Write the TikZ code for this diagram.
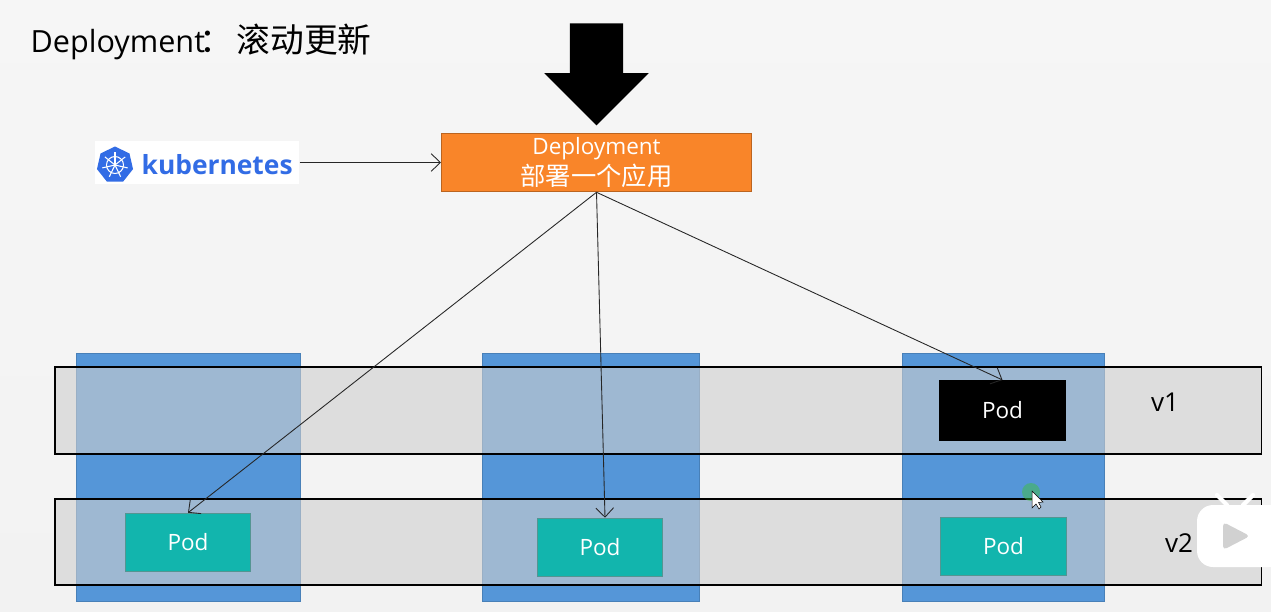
\documentclass[tikz,border=0pt]{standalone}
\usepackage{fontspec}
\setmainfont{Open Sans}
\newfontfamily\cjk{Noto Sans CJK SC}
\usetikzlibrary{shapes.arrows,shapes.geometric,arrows.meta}
\definecolor{pageback}{HTML}{F2F2F2}
\definecolor{colblue}{HTML}{5596D8}
\definecolor{bandgray}{HTML}{CFCFCF}
\definecolor{deployorange}{HTML}{F98529}
\definecolor{podteal}{HTML}{12B5AD}
\definecolor{kubeblue}{HTML}{326CE5}
\tikzset{
  column/.style={draw=colblue!85!black,line width=0.2pt,fill=colblue,minimum height=2.48cm,inner sep=0pt},
  band/.style={draw=black,line width=0.3pt,fill=bandgray,fill opacity=0.6,minimum width=12.06cm,inner sep=0pt},
  pod/.style={draw=podteal!40!gray,line width=0.3pt,fill=podteal,text=white,minimum width=1.25cm,minimum height=0.585cm,inner sep=0pt,font=\fontsize{6.4}{7}\selectfont},
  link/.style={-{Straight Barb[length=2.6pt,width=5pt]},line width=0.25pt,draw=black!85},
  version/.style={font=\fontsize{7.4}{8}\selectfont}
}
\begin{document}
\begin{tikzpicture}
  \useasboundingbox (0,0) rectangle (12.71,6.11);
  \shade[top color=pageback!70!white,bottom color=pageback] (0,0) rectangle (12.71,6.11);

  \node[anchor=west,inner sep=0pt,font=\fontsize{8.7}{10}\selectfont] (title) at (0.30,5.69) {Deployment{\cjk\fontsize{9.6}{10}\selectfont\hspace{-1.7pt}：\hspace{1.1pt}滚动更新}};

  \node[single arrow,fill=black,inner sep=0.26cm,minimum height=1.02cm,minimum width=1.03cm,single arrow head extend=0.255cm,single arrow head indent=0pt,shape border rotate=270] (bigarrow) at (5.965,5.5) {};

  \node[fill=white,minimum width=2.04cm,minimum height=0.43cm,inner sep=0pt] (kube) at (1.97,4.485) {};
  \node[regular polygon,regular polygon sides=7,fill=kubeblue,minimum size=0.37cm,inner sep=0pt] (wheel) at (1.15,4.46) {};
  \draw[white,line width=0.3pt] (wheel.center) circle (0.085);
  \foreach \a in {0,51.4,...,360}
    \draw[white,line width=0.3pt] (wheel.center) -- ++(\a+90:0.13);
  \node[anchor=west,inner sep=0pt,text=kubeblue,font=\fontsize{7.5}{9}\selectfont\bfseries] (kubetext) at (1.41,4.46) {kubernetes};

  \node[draw=deployorange!75!black,line width=0.3pt,fill=deployorange,text=white,align=center,minimum width=3.1cm,minimum height=0.585cm,inner sep=0pt] (deploy) at (5.965,4.485)
    {\fontsize{6.4}{8}\selectfont Deployment\\[-3pt]{\cjk\fontsize{7.2}{8}\selectfont 部署一个应用}};

  \node[column,minimum width=2.24cm] (cola) at (1.88,1.34) {};
  \node[column,minimum width=2.17cm] (colb) at (5.905,1.34) {};
  \node[column,minimum width=2.02cm] (colc) at (10.03,1.34) {};

  \node[band,minimum height=0.87cm] (bandone) at (6.58,2.005) {};
  \node[band,minimum height=0.86cm] (bandtwo) at (6.58,0.69) {};

  \node[pod] (poda) at (1.88,0.685) {Pod};
  \node[pod] (podb) at (6.00,0.635) {Pod};
  \node[pod,minimum width=1.26cm] (podc) at (10.035,0.645) {Pod};
  \node[pod,draw=black,fill=black,minimum width=1.26cm,minimum height=0.6cm] (podold) at (10.025,2.005) {Pod};

  \node[version] (vone) at (11.65,2.09) {v1};
  \node[version] (vtwo) at (11.79,0.68) {v2};

  \draw[link] (kube.east) -- (deploy.west);
  \draw[link] (deploy.south) -- (poda.north);
  \draw[link] (deploy.south) -- ([xshift=0.05cm]podb.north);
  \draw[link] (deploy.south) -- (podold.north);

  \fill[green!50!gray,opacity=0.5] (10.31,1.19) circle (0.09);
  \draw[black,fill=white,line width=0.15pt] (10.32,1.2) -- (10.32,1.03) -- (10.36,1.07) -- (10.39,1.02) -- (10.41,1.04) -- (10.385,1.085) -- (10.43,1.09) -- cycle;

  \fill[white,rounded corners=0.16cm] (11.97,0.44) rectangle (12.85,1.06);
  \draw[white,line width=1.2pt,line cap=round] (12.17,1.16) -- (12.27,1.06);
  \draw[white,line width=1.2pt,line cap=round] (12.53,1.16) -- (12.43,1.06);
  \fill[black!18,rounded corners=0.04cm] (12.23,0.61) -- (12.23,0.89) -- (12.5,0.75) -- cycle;
\end{tikzpicture}
\end{document}
